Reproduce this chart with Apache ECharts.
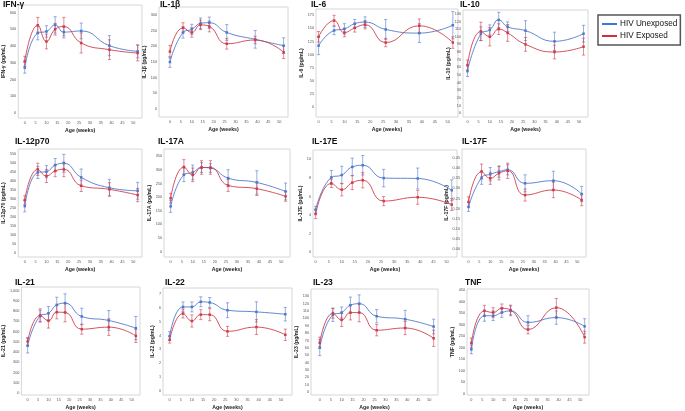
<!DOCTYPE html>
<html><head><meta charset="utf-8">
<script src="https://cdn.jsdelivr.net/npm/echarts@6/dist/echarts.min.js"></script>
<style>html,body{margin:0;padding:0;background:#fff}#c{width:685px;height:411px}</style>
</head><body><div id="c"></div>
<script>
// ---- data ----
const weeks = [0, 6, 10, 14, 18, 26, 39, 52];
const seriesNames = ['HIV Unexposed', 'HIV Exposed'];
const panelTitles = ['IFN-γ','IL-1β','IL-6','IL-10','IL-12p70','IL-17A','IL-17E','IL-17F','IL-21','IL-22','IL-23','TNF'];
const yAxisNames = ['IFN-γ (pg/mL)','IL-1β (pg/mL)','IL-6 (pg/mL)','IL-10 (pg/mL)','IL-12p70 (pg/mL)','IL-17A (pg/mL)','IL-17E (pg/mL)','IL-17F (pg/mL)','IL-21 (pg/mL)','IL-22 (pg/mL)','IL-23 (pg/mL)','TNF (pg/mL)'];
const xAxisName = 'Age (weeks)';
const xTickLabels = [0,5,10,15,20,25,30,35,40,45,50];

const ifngUnexp = [270, 478, 487, 526, 483, 490, 402, 368];
const ifngUnexpErr = [32, 41, 34, 49, 35, 47, 60, 39];
const ifngExp = [309, 524, 427, 500, 516, 418, 378, 358];
const ifngExpErr = [30, 47, 44, 35, 55, 60, 59, 47];

const il1bUnexp = [150, 244, 254, 273, 275, 244, 222, 202];
const il1bUnexpErr = [17, 18, 16, 17, 18, 25, 28, 25];
const il1bExp = [183, 259, 244, 268, 263, 208, 220, 181];
const il1bExpErr = [20, 16, 15, 15, 17, 17, 12, 20];

const il6Unexp = [117, 146, 149, 159, 162, 148, 141, 156];
const il6UnexpErr = [17, 8, 10, 8, 10, 19, 18, 26];
const il6Exp = [134, 165, 142, 151, 157, 123, 155, 123];
const il6ExpErr = [10, 10, 8, 8, 8, 8, 13, 11];

const il10Unexp = [55, 104, 109, 122, 113, 108, 94, 104];
const il10UnexpErr = [7, 9, 6.5, 10, 6.5, 13, 12, 11];
const il10Exp = [63, 107, 100, 110, 105, 90, 80, 87];
const il10ExpErr = [6.5, 12, 12, 7, 11, 9, 9, 11];

const il12Unexp = [260, 449, 453, 490, 500, 421, 363, 346];
const il12UnexpErr = [32, 34, 34, 37, 50, 47, 47, 47];
const il12Exp = [294, 466, 429, 457, 466, 374, 354, 322];
const il12ExpErr = [24, 34, 37, 32, 41, 32, 37, 37];

const il17aUnexp = [166, 282, 291, 309, 307, 270, 254, 221];
const il17aUnexpErr = [22, 25, 27, 18, 16, 31, 43, 31];
const il17aExp = [196, 311, 282, 309, 309, 243, 231, 203];
const il17aExpErr = [18, 27, 25, 25, 25, 22, 25, 18];

const il17eUnexp = [4.57, 8.05, 8.31, 9.18, 9.36, 7.98, 7.94, 6.67];
const il17eUnexpErr = [0.37, 0.75, 0.94, 0.94, 1.05, 0.94, 1.12, 1.12];
const il17eExp = [4.12, 7.42, 6.74, 7.49, 7.75, 5.51, 5.92, 5.13];
const il17eExpErr = [0.5, 0.45, 0.67, 0.75, 0.82, 0.5, 0.75, 0.64];

const il17fUnexp = [0.208, 0.353, 0.37, 0.383, 0.392, 0.325, 0.338, 0.272];
const il17fUnexpErr = [0.022, 0.033, 0.033, 0.028, 0.025, 0.042, 0.047, 0.038];
const il17fExp = [0.233, 0.383, 0.35, 0.375, 0.387, 0.267, 0.292, 0.242];
const il17fExpErr = [0.025, 0.037, 0.03, 0.033, 0.038, 0.03, 0.038, 0.028];

const il21Unexp = [461, 753, 779, 860, 877, 747, 708, 633];
const il21UnexpErr = [71, 55, 65, 75, 91, 81, 97, 114];
const il21Exp = [503, 757, 705, 789, 786, 623, 643, 558];
const il21ExpErr = [39, 65, 71, 65, 91, 49, 81, 65];

const il22Unexp = [3.97, 6.08, 6.08, 6.45, 6.4, 5.84, 5.72, 5.55];
const il22UnexpErr = [0.32, 0.36, 0.36, 0.36, 0.36, 0.54, 0.73, 0.49];
const il22Exp = [3.70, 5.6, 5.06, 5.52, 5.52, 4.31, 4.62, 4.06];
const il22ExpErr = [0.24, 0.32, 0.44, 0.36, 0.44, 0.36, 0.54, 0.41];

const il23Unexp = [60.5, 105, 108, 118, 120, 103, 99, 89];
const il23UnexpErr = [11, 9, 7.6, 11, 12, 9, 12, 10];
const il23Exp = [67, 107, 98, 108, 108, 84, 87, 73];
const il23ExpErr = [7.6, 6.7, 9, 10, 12.5, 7.6, 9, 11];

const tnfUnexp = [193, 339, 339, 353, 360, 310, 331, 293];
const tnfUnexpErr = [19, 24, 21, 21, 21, 29, 29, 33];
const tnfExp = [221, 360, 353, 371, 364, 279, 374, 246];
const tnfExpErr = [21, 24, 21, 19, 21, 19, 40, 26];

// y tick labels per panel: [first, last, step, decimals]
const yTickLabels = [
  [0, 600, 100, 0], [0, 300, 50, 0], [0, 175, 25, 0], [0, 130, 10, 0],
  [0, 550, 50, 0], [0, 350, 50, 0], [0, 10, 2, 0], [0, 0.45, 0.05, 2],
  [0, 1000, 100, 0], [0, 7, 1, 0], [0, 130, 10, 0], [0, 450, 50, 0]
];

const panelData = [
  [ifngUnexp, ifngUnexpErr, ifngExp, ifngExpErr],
  [il1bUnexp, il1bUnexpErr, il1bExp, il1bExpErr],
  [il6Unexp, il6UnexpErr, il6Exp, il6ExpErr],
  [il10Unexp, il10UnexpErr, il10Exp, il10ExpErr],
  [il12Unexp, il12UnexpErr, il12Exp, il12ExpErr],
  [il17aUnexp, il17aUnexpErr, il17aExp, il17aExpErr],
  [il17eUnexp, il17eUnexpErr, il17eExp, il17eExpErr],
  [il17fUnexp, il17fUnexpErr, il17fExp, il17fExpErr],
  [il21Unexp, il21UnexpErr, il21Exp, il21ExpErr],
  [il22Unexp, il22UnexpErr, il22Exp, il22ExpErr],
  [il23Unexp, il23UnexpErr, il23Exp, il23ExpErr],
  [tnfUnexp, tnfUnexpErr, tnfExp, tnfExpErr]
];

// ---- layout (pixels) ----
const layout = [
  {g:[16,5,126,113],  t:[3,0],     y:[-30,645,10],   x:[-3,54], ng:10},
  {g:[159,7,129,110], t:[160,0],   y:[-25,325,5],    x:[-5,54], ng:9},
  {g:[316,9,142,108], t:[311,0],   y:[-19,187,1],    x:[-1,54], ng:9},
  {g:[463,10,125,107],t:[460,0],   y:[-5,135,1],     x:[-2,54], ng:9},
  {g:[15,149,127,108],t:[15,137],  y:[-25,580,5],    x:[-3,54], ng:10},
  {g:[164,149,126,108],t:[158,137],y:[-20,377,1],    x:[-3,54], ng:9},
  {g:[313,150,144,107],t:[312,137],y:[-0.5,11,0.5],  x:[-1,54], ng:8},
  {g:[462,149,124,108],t:[462,137],y:[-0.04,0.495,0.01], x:[-3,54], ng:11},
  {g:[17,287,123,108],t:[15,278],  y:[-20,1035,5],   x:[-3,54], ng:12},
  {g:[163,288,129,107],t:[165,278],y:[-0.3,7.45,0.1],x:[-3,55], ng:7},
  {g:[311,289,127,107],t:[313,278],y:[-4,140,1],     x:[-4,54], ng:9},
  {g:[467,289,122,107],t:[465,278],y:[-5,455,5],     x:[-2,54], ng:9}
];

const BLUE = '#5078cc', RED = '#cf3d4c';
const FONT = 'Liberation Sans, Arial, sans-serif';

function fmtNum(v, dec) {
  let s = v.toFixed(dec);
  if (dec === 0 && Math.abs(v) >= 1000) s = s.replace(/\B(?=(\d{3})+(?!\d))/g, ',');
  return s;
}

function errRender(params, api) {
  const x = api.value(0), lo = api.value(1), hi = api.value(2);
  const p1 = api.coord([x, lo]), p2 = api.coord([x, hi]);
  const cw = 1.6;
  const style = {stroke: api.visual('color'), lineWidth: 0.7, opacity: 0.85};
  return {type: 'group', children: [
    {type: 'line', shape: {x1: p1[0], y1: p1[1], x2: p2[0], y2: p2[1]}, style: style},
    {type: 'line', shape: {x1: p1[0] - cw, y1: p1[1], x2: p1[0] + cw, y2: p1[1]}, style: style},
    {type: 'line', shape: {x1: p2[0] - cw, y1: p2[1], x2: p2[0] + cw, y2: p2[1]}, style: style}
  ]};
}

const grids = [], xAxes = [], yAxes = [], titles = [], series = [];
panelTitles.forEach((name, i) => {
  const L = layout[i];
  const yl = yTickLabels[i];
  grids.push({left: L.g[0], top: L.g[1], width: L.g[2], height: L.g[3], show: true,
    borderColor: '#d6d6d6', borderWidth: 1, backgroundColor: '#fff', containLabel: false});
  titles.push({text: name, left: L.t[0], top: L.t[1], padding: 0,
    textStyle: {fontFamily: FONT, fontSize: 8.5, fontWeight: 'bold', color: '#111'}});
  xAxes.push({type: 'value', gridIndex: i, min: L.x[0], max: L.x[1], interval: 1,
    axisLine: {show: false}, axisTick: {show: false}, splitLine: {show: false},
    axisLabel: {fontSize: 3.8, color: '#555', margin: 3, fontFamily: FONT,
      formatter: v => (xTickLabels.indexOf(Math.round(v)) >= 0 && Math.abs(v - Math.round(v)) < 1e-6) ? String(Math.round(v)) : ''},
    name: xAxisName, nameLocation: 'middle', nameGap: 10,
    nameTextStyle: {fontFamily: FONT, fontSize: 5.2, fontWeight: 'bold', color: '#222'}});
  yAxes.push({type: 'value', gridIndex: i, min: L.y[0], max: L.y[1], interval: L.y[2],
    axisLine: {show: false}, axisTick: {show: false}, splitLine: {show: false},
    axisLabel: {fontSize: 3.8, color: '#555', margin: 2, fontFamily: FONT,
      formatter: v => {
        const k = (v - yl[0]) / yl[2];
        if (Math.abs(k - Math.round(k)) > 1e-4) return '';
        if (v < yl[0] - 1e-9 || v > yl[1] + 1e-9) return '';
        return fmtNum(Math.round(k) * yl[2] + yl[0], yl[3]);
      }},
    name: yAxisNames[i], nameLocation: 'middle', nameGap: L.ng,
    nameTextStyle: {fontFamily: FONT, fontSize: 5.2, fontWeight: 'bold', color: '#222'}});

  const d = panelData[i];
  [[d[0], d[1], BLUE, seriesNames[0]], [d[2], d[3], RED, seriesNames[1]]].forEach(([m, e, col, sn]) => {
    series.push({type: 'custom', xAxisIndex: i, yAxisIndex: i, renderItem: errRender,
      itemStyle: {color: col}, silent: true, z: 2,
      encode: {x: 0, y: [1, 2]},
      data: weeks.map((w, j) => [w, m[j] - e[j], m[j] + e[j]])});
    series.push({type: 'line', name: sn, xAxisIndex: i, yAxisIndex: i, smooth: 0.5,
      symbol: 'rect', symbolSize: 2.5, showSymbol: true,
      lineStyle: {color: col, width: 0.9}, itemStyle: {color: col}, z: 3,
      animation: false,
      data: weeks.map((w, j) => [w, m[j]])});
  });
});

const chart = echarts.init(document.getElementById('c'), null, {renderer: 'canvas'});
chart.setOption({
  animation: false,
  backgroundColor: '#fff',
  title: titles,
  grid: grids,
  xAxis: xAxes,
  yAxis: yAxes,
  legend: {
    left: 598, top: 15, orient: 'vertical',
    data: [{name: seriesNames[0], itemStyle: {color: '#3a78d4'}}, {name: seriesNames[1], itemStyle: {color: '#d23030'}}],
    icon: 'rect', itemWidth: 15, itemHeight: 2, itemGap: 4,
    borderColor: '#555', borderWidth: 1.5, padding: [5, 3, 5, 4],
    textStyle: {fontFamily: FONT, fontSize: 8.2, color: '#111', padding: [0, 0, 0, -2]},
    selectedMode: false
  },
  series: series
});
</script></body></html>
